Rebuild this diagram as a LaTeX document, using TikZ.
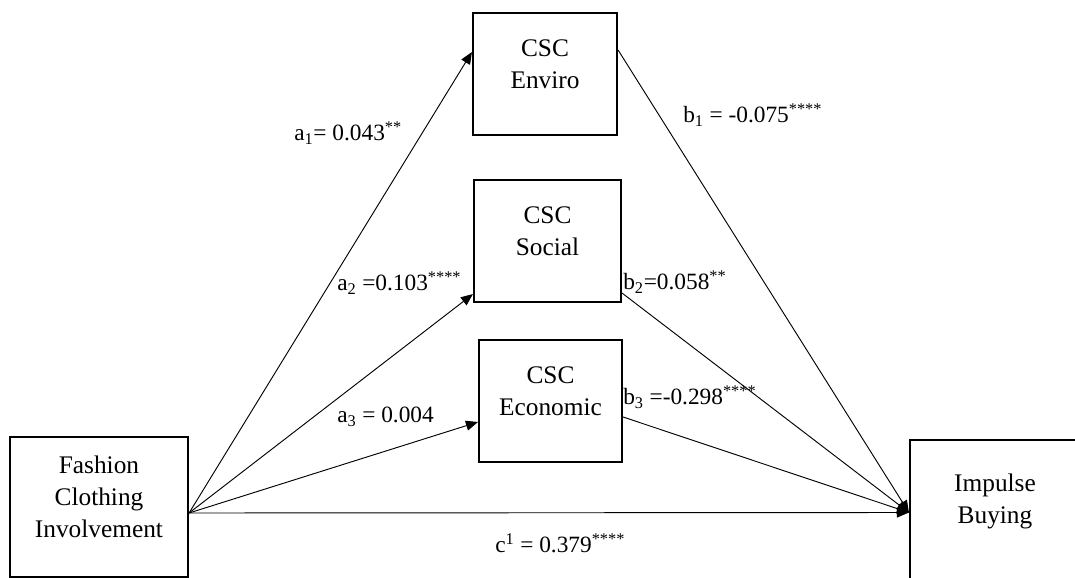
\documentclass[tikz,border=0pt]{standalone}
\usepackage{fontspec}
\setmainfont{Liberation Serif}
\usetikzlibrary{arrows.meta}

\tikzset{
  varbox/.style={draw, line width=1.6pt, align=center, inner sep=2pt, text depth=15pt,
    font=\fontsize{19}{24}\selectfont},
  path/.style={line width=0.7pt, -{Triangle[length=9pt,width=7.5pt]}},
  coef/.style={anchor=west, inner sep=0pt, font=\fontsize{17.5}{20}\selectfont}
}

\begin{document}
\begin{tikzpicture}[x=0.75pt, y=-0.75pt]
  % frame of the page (pixel grid, y down)
  \useasboundingbox (0,0) rectangle (1075,578);
  \clip (0,0) rectangle (1075,578);

  % variables
  \node[varbox, minimum width=133.5pt, minimum height=105pt] (fashion) at (99,507) {Fashion\\Clothing\\Involvement};
  \node[varbox, minimum width=108pt, minimum height=91.5pt] (enviro) at (545,74) {CSC\\Enviro};
  \node[varbox, minimum width=110.25pt, minimum height=91.5pt] (social) at (547.5,241) {CSC\\Social};
  \node[varbox, minimum width=107.25pt, minimum height=91.5pt] (economic) at (550.5,401) {CSC\\Economic};
  \node[varbox, text depth=21pt, minimum width=127.5pt, minimum height=108.75pt] (impulse) at (995,512.5) {Impulse\\Buying};

  % a paths
  \draw[path] ([yshift=-4.5pt]fashion.east) -- ([yshift=16.5pt]enviro.west);
  \draw[path] ([yshift=-4.5pt]fashion.east) -- ([yshift=6.75pt]social.south west);
  \draw[path] ([yshift=-4.5pt]fashion.east) -- ([yshift=-15.75pt]economic.west);

  % b paths
  \draw[path] ([yshift=18pt]enviro.east) -- (impulse.west);
  \draw[path] ([yshift=7.5pt]social.south east) -- (impulse.west);
  \draw[path] ([yshift=-12pt]economic.east) -- (impulse.west);

  % direct path
  \draw[path] ([yshift=-4.5pt]fashion.east) -- (impulse.west);

  % coefficients
  \node[coef] (a1) at (294,133) {a\textsubscript{1}= 0.043\textsuperscript{**}};
  \node[coef] (b1) at (683,115) {b\textsubscript{1} = -0.075\textsuperscript{****}};
  \node[coef] (a2) at (337,283) {a\textsubscript{2} =0.103\textsuperscript{****}};
  \node[coef] (b2) at (623,282) {b\textsubscript{2}=0.058\textsuperscript{**}};
  \node[coef] (a3) at (337,417) {a\textsubscript{3} = 0.004};
  \node[coef] (b3) at (623,397) {b\textsubscript{3} =-0.298\textsuperscript{****}};
  \node[coef] (c1) at (495,543) {c\textsuperscript{1} = 0.379\textsuperscript{****}};
\end{tikzpicture}
\end{document}
